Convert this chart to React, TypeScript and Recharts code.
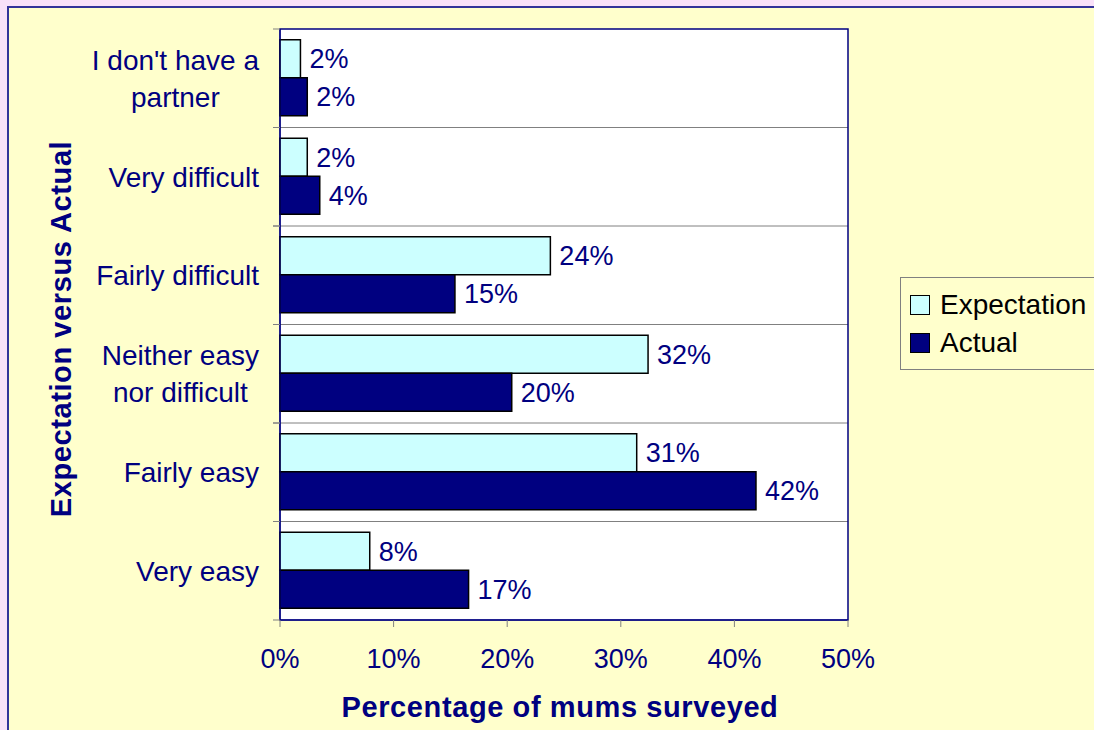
import React from 'react';
import { BarChart, Bar, XAxis, YAxis, CartesianGrid, Legend, LabelList, ReferenceArea } from 'recharts';

// categories top to bottom, "\n" marks a line break in the axis label
const categories = [
  "I don't have a\npartner",
  'Very difficult',
  'Fairly difficult',
  'Neither easy\nnor difficult',
  'Fairly easy',
  'Very easy',
];
const expectation = [1.8, 2.4, 23.8, 32.4, 31.4, 7.9];
const actual = [2.4, 3.5, 15.4, 20.4, 41.9, 16.6];
const xTicks = [0, 10, 20, 30, 40, 50];

const NAVY = '#000080';
const FONT = '"Liberation Sans", Arial, sans-serif';

const data = categories.map((name, i) => ({
  name,
  expectation: expectation[i],
  actual: actual[i],
}));

let ctx: CanvasRenderingContext2D | null = null;
const measure = (s: string) => {
  if (!ctx) ctx = document.createElement('canvas').getContext('2d');
  if (!ctx) return s.length * 14;
  ctx.font = `28px ${FONT}`;
  return ctx.measureText(s).width;
};

const CategoryTick = (props: any) => {
  const { x, y, payload } = props;
  const lines: string[] = String(payload.value).split('\n');
  const widest = Math.max(...lines.map(measure));
  const cx = x - widest / 2;
  const lh = 37;
  const half = payload.offset || 49;
  const axisX = x + 21;
  return (
    <g>
      <line x1={axisX - 7} x2={axisX} y1={y - half} y2={y - half} stroke="#808080" />
      <line x1={axisX - 7} x2={axisX} y1={y + half} y2={y + half} stroke="#808080" />
      {lines.map((l, i) => (
        <text
          key={i}
          x={cx}
          y={y - ((lines.length - 1) * lh) / 2 + i * lh}
          dy="0.35em"
          textAnchor="middle"
          fill={NAVY}
          fontSize={28}
          fontFamily={FONT}
        >
          {l}
        </text>
      ))}
    </g>
  );
};

const YTitle = () => (
  <text
    x={61}
    y={329}
    transform="rotate(-90 61 329)"
    textAnchor="middle"
    dy="0.35em"
    fill={NAVY}
    fontSize={29}
    letterSpacing={0.6}
    fontWeight="bold"
    fontFamily={FONT}
  >
    Expectation versus Actual
  </text>
);

const LegendBox = () => (
  <div
    style={{
      width: 200,
      height: 93,
      border: '1px solid #808080',
      fontFamily: FONT,
      fontSize: 28,
      color: '#000',
      boxSizing: 'border-box',
      paddingLeft: 9,
      paddingTop: 8,
    }}
  >
    {[
      { label: 'Expectation', fill: '#CCFFFF' },
      { label: 'Actual', fill: NAVY },
    ].map((it) => (
      <div key={it.label} style={{ display: 'flex', alignItems: 'center', height: 38 }}>
        <span
          style={{
            display: 'inline-block',
            width: 20,
            height: 20,
            background: it.fill,
            border: '1.5px solid #000',
            boxSizing: 'border-box',
            marginRight: 10,
          }}
        />
        {it.label}
      </div>
    ))}
  </div>
);

const App: React.FC = () => {
  return (
    <div style={{ position: 'absolute', left: 0, top: 0, width: 1094, height: 730, background: '#F9E1F9', overflow: 'hidden' }}>
      <div
        style={{
          position: 'absolute',
          left: 7,
          top: 6,
          width: 1100,
          height: 740,
          background: '#FFFFCC',
          borderTop: '2px solid #333399',
          borderLeft: '2px solid #333399',
        }}
      />
      <div style={{ position: 'absolute', left: 0, top: 0 }}>
        <BarChart
          width={1094}
          height={730}
          data={data}
          layout="vertical"
          margin={{ top: 29, right: 246, bottom: 0, left: 0 }}
          barCategoryGap="11%"
          barGap={0}
        >
          <CartesianGrid
            vertical={false}
            stroke="#808080"
            fill="#FFFFFF"
            horizontalCoordinatesGenerator={({ offset }: any) =>
              categories.slice(1).map((_, i) => offset.top + ((i + 1) * offset.height) / categories.length)
            }
          />
          <XAxis
            type="number"
            domain={[0, 50]}
            ticks={xTicks}
            tickFormatter={(v: number) => `${v}%`}
            height={110}
            tickSize={7}
            tickMargin={22}
            tickLine={{ stroke: '#808080' }}
            axisLine={{ stroke: NAVY }}
            tick={{ fill: NAVY, fontSize: 27, fontFamily: FONT }}
            label={{
              value: 'Percentage of mums surveyed',
              position: 'insideBottom',
              offset: 13,
              dx: -4,
              fill: NAVY,
              fontSize: 29,
              letterSpacing: 0.6,
              fontWeight: 'bold',
              fontFamily: FONT,
            }}
          />
          <YAxis
            type="category"
            dataKey="name"
            width={280}
            tickSize={0}
            tickMargin={21}
            axisLine={{ stroke: NAVY }}
            tick={<CategoryTick />}
            interval={0}
            label={{ content: () => <YTitle /> }}
          />
          <ReferenceArea x1={0} x2={50} fill="none" stroke={NAVY} strokeWidth={1.5} />
          <Legend
            layout="vertical"
            align="center"
            verticalAlign="middle"
            wrapperStyle={{ left: 900, top: 277, width: 200 }}
            content={() => <LegendBox />}
          />
          <Bar dataKey="expectation" name="Expectation" fill="#CCFFFF" stroke="#000" strokeWidth={1.5} isAnimationActive={false}>
            <LabelList
              dataKey="expectation"
              position="right"
              offset={9}
              formatter={(v: any) => `${Math.round(Number(v))}%`}
              fill={NAVY}
              fontSize={27}
              fontFamily={FONT}
            />
          </Bar>
          <Bar dataKey="actual" name="Actual" fill={NAVY} stroke="#000" strokeWidth={1.5} isAnimationActive={false}>
            <LabelList
              dataKey="actual"
              position="right"
              offset={9}
              formatter={(v: any) => `${Math.round(Number(v))}%`}
              fill={NAVY}
              fontSize={27}
              fontFamily={FONT}
            />
          </Bar>
        </BarChart>
      </div>
    </div>
  );
};

export default App;
